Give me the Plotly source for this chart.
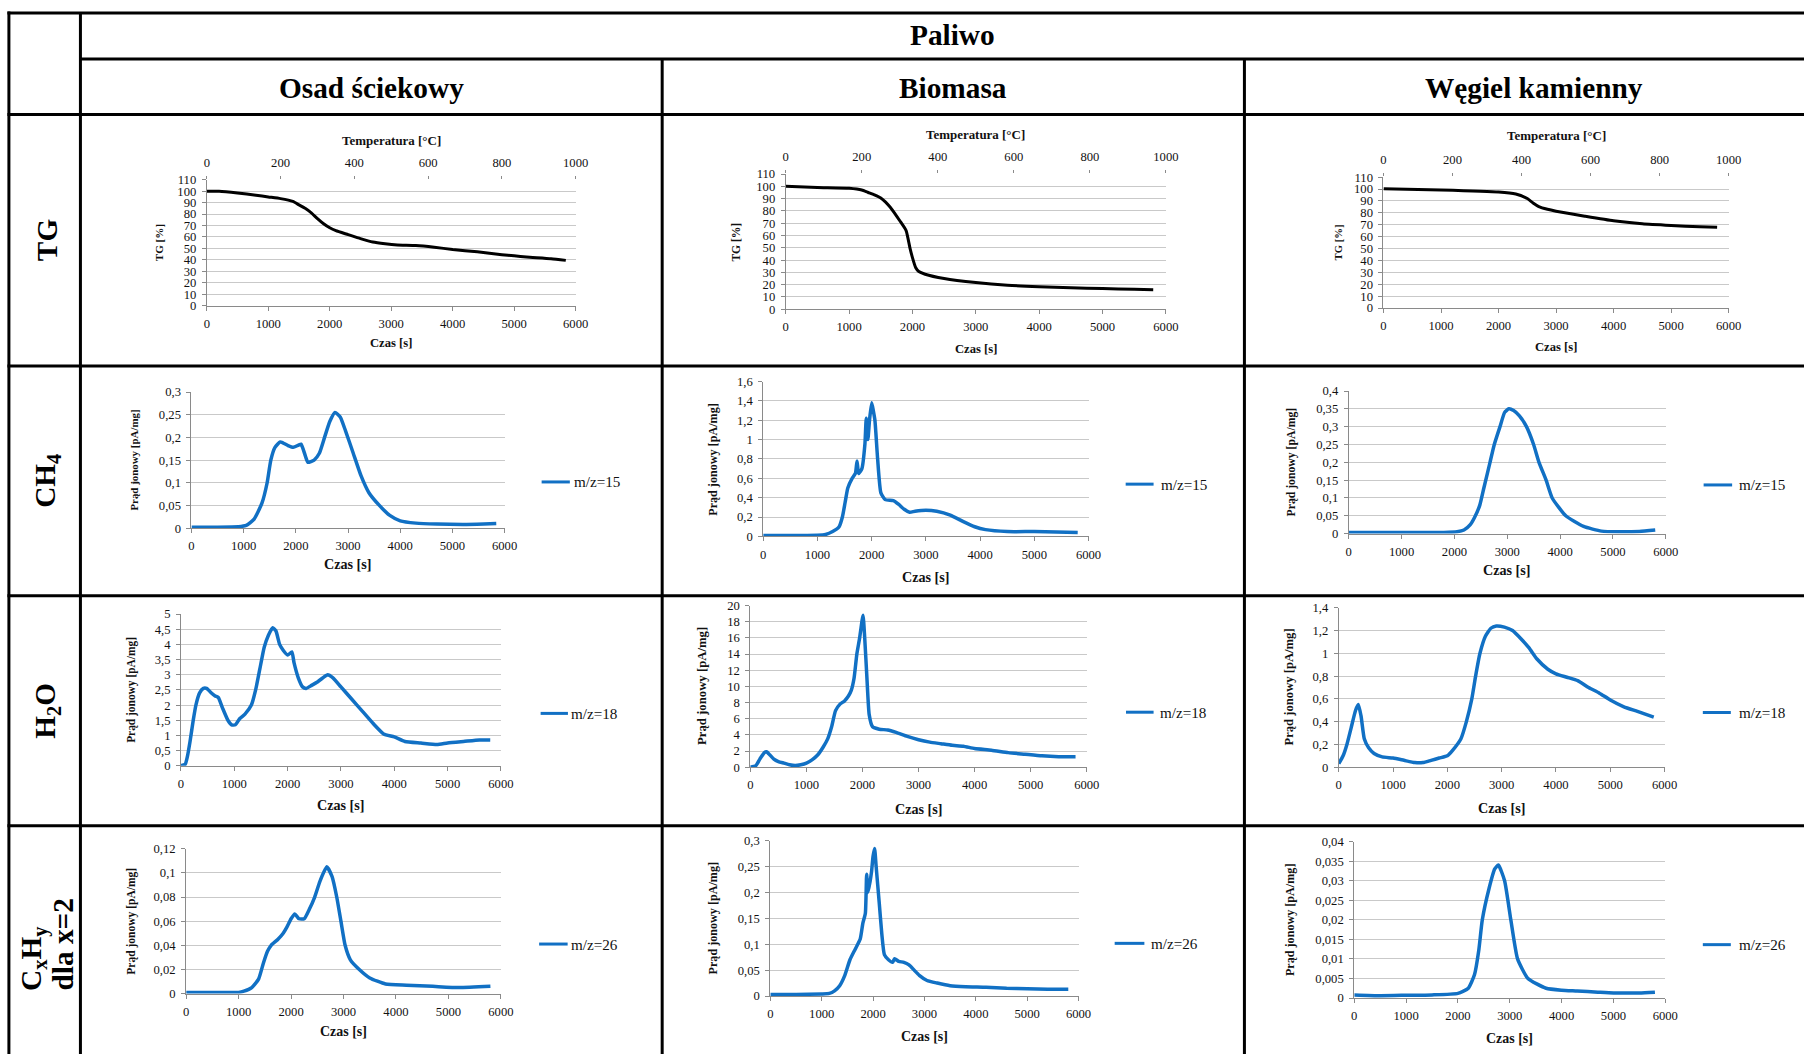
import plotly.graph_objects as go

# ---------------- DATA ----------------
TG_OSAD_T = [0, 200, 500, 800, 1000, 1200, 1400, 1500, 1600, 1700, 1800, 1900, 2000, 2100, 2300, 2500, 2700, 2900, 3100, 3400, 3700, 4000, 4400, 4800, 5000, 5200, 5600, 5840]
TG_OSAD_V = [100, 100, 98.5, 96.5, 95, 93.5, 91, 88, 85, 81, 76, 71.5, 68, 65.5, 62, 58.5, 55.5, 54, 53, 52.5, 51, 49, 47, 44.5, 43.5, 42.5, 41, 39.5]

TG_BIO_T = [0, 500, 1000, 1200, 1300, 1400, 1500, 1650, 1800, 1900, 1960, 2000, 2050, 2100, 2200, 2500, 3000, 3500, 4000, 4500, 5000, 5500, 5800]
TG_BIO_V = [100, 99, 98.4, 97, 95, 93, 90.5, 83, 72, 64, 50, 42, 34, 30.7, 28.5, 25, 21.7, 19.5, 18.3, 17.5, 16.8, 16.2, 15.8]

TG_WEG_T = [0, 1000, 2000, 2300, 2500, 2600, 2700, 2850, 3000, 3500, 4000, 4500, 5000, 5500, 5800]
TG_WEG_V = [100.3, 99.2, 97.5, 95.8, 92, 88.3, 85.3, 83, 81.4, 77.2, 73.3, 70.8, 69.4, 68.3, 67.8]

CH4_OSAD_T = [0, 500, 900, 1050, 1200, 1350, 1450, 1520, 1600, 1700, 1750, 1850, 1950, 2050, 2100, 2180, 2230, 2350, 2450, 2550, 2650, 2750, 2850, 2950, 3100, 3250, 3400, 3600, 3800, 4000, 4300, 4700, 5200, 5600, 5840]
CH4_OSAD_V = [0.002, 0.002, 0.003, 0.006, 0.02, 0.055, 0.1, 0.15, 0.178, 0.19, 0.188, 0.182, 0.178, 0.183, 0.185, 0.16, 0.145, 0.15, 0.165, 0.2, 0.235, 0.255, 0.245, 0.215, 0.165, 0.115, 0.078, 0.05, 0.028, 0.016, 0.011, 0.009, 0.008, 0.009, 0.01]

CH4_BIO_T = [0, 500, 1000, 1150, 1280, 1400, 1460, 1510, 1560, 1640, 1700, 1730, 1760, 1820, 1875, 1900, 1930, 1960, 2000, 2030, 2060, 2110, 2170, 2250, 2400, 2500, 2600, 2700, 2800, 3000, 3200, 3450, 3700, 3900, 4100, 4500, 5000, 5400, 5800]
CH4_BIO_V = [0.01, 0.01, 0.012, 0.02, 0.05, 0.1, 0.2, 0.35, 0.5, 0.6, 0.65, 0.78, 0.65, 0.7, 0.95, 1.22, 1.0, 1.2, 1.38, 1.3, 1.2, 0.8, 0.45, 0.38, 0.37, 0.33, 0.28, 0.25, 0.26, 0.27, 0.26, 0.22, 0.15, 0.1, 0.07, 0.05, 0.05, 0.045, 0.04]

CH4_WEG_T = [0, 1000, 1800, 2050, 2180, 2300, 2380, 2480, 2560, 2673, 2754, 2862, 2950, 3030, 3120, 3230, 3363, 3498, 3600, 3735, 3850, 4107, 4445, 4783, 5100, 5500, 5800]
CH4_WEG_V = [0.003, 0.003, 0.003, 0.005, 0.01, 0.025, 0.045, 0.08, 0.13, 0.2, 0.25, 0.3, 0.34, 0.35, 0.345, 0.33, 0.3, 0.25, 0.2, 0.15, 0.1, 0.05, 0.02, 0.007, 0.005, 0.006, 0.01]

H2O_OSAD_T = [0, 80, 120, 170, 230, 280, 350, 420, 480, 570, 640, 700, 780, 880, 950, 1020, 1100, 1200, 1320, 1400, 1480, 1560, 1640, 1720, 1780, 1850, 1920, 2000, 2080, 2120, 2200, 2280, 2350, 2450, 2550, 2700, 2750, 2850, 3000, 3200, 3400, 3600, 3800, 4000, 4200, 4500, 4800, 5000, 5300, 5600, 5800]
H2O_OSAD_V = [0, 0.05, 0.3, 0.8, 1.5, 2.0, 2.4, 2.55, 2.55, 2.4, 2.3, 2.25, 1.9, 1.5, 1.35, 1.35, 1.55, 1.7, 2.0, 2.5, 3.2, 3.9, 4.3, 4.55, 4.45, 4.0, 3.8, 3.65, 3.75, 3.4, 2.9, 2.6, 2.55, 2.65, 2.75, 2.95, 3.0, 2.9, 2.6, 2.2, 1.8, 1.4, 1.05, 0.95, 0.8, 0.75, 0.7, 0.75, 0.8, 0.85, 0.85]

H2O_BIO_T = [0, 100, 170, 250, 290, 350, 420, 500, 600, 700, 800, 900, 1000, 1100, 1200, 1300, 1380, 1450, 1520, 1600, 1680, 1750, 1800, 1850, 1900, 1950, 2010, 2040, 2080, 2120, 2180, 2300, 2450, 2600, 2800, 3000, 3200, 3400, 3600, 3800, 4000, 4300, 4600, 4900, 5200, 5500, 5800]
H2O_BIO_V = [0, 0.2, 1.0, 1.8, 1.9, 1.5, 1.0, 0.7, 0.5, 0.3, 0.2, 0.3, 0.5, 0.9, 1.5, 2.5, 3.5, 5.0, 7.0, 7.8, 8.2, 8.8, 9.5, 11, 14, 16, 18.8, 16, 11, 6.5, 5.0, 4.7, 4.6, 4.3, 3.8, 3.4, 3.1, 2.9, 2.7, 2.6, 2.3, 2.1, 1.8, 1.6, 1.4, 1.3, 1.3]

H2O_WEG_T = [0, 80, 150, 230, 310, 360, 410, 470, 550, 650, 800, 1000, 1200, 1400, 1550, 1700, 1850, 2000, 2100, 2250, 2350, 2450, 2520, 2600, 2700, 2800, 2900, 3050, 3200, 3350, 3500, 3650, 3850, 4000, 4200, 4400, 4600, 4800, 5000, 5250, 5500, 5800]
H2O_WEG_V = [0.03, 0.1, 0.2, 0.35, 0.5, 0.55, 0.45, 0.25, 0.17, 0.12, 0.09, 0.08, 0.06, 0.04, 0.04, 0.06, 0.08, 0.1, 0.15, 0.25, 0.4, 0.6, 0.8, 1.0, 1.15, 1.22, 1.24, 1.23, 1.2, 1.13, 1.05, 0.95, 0.86, 0.82, 0.79, 0.76, 0.7, 0.65, 0.59, 0.53, 0.49, 0.44]

CXHY_OSAD_T = [0, 500, 1000, 1100, 1250, 1380, 1470, 1550, 1620, 1750, 1850, 1920, 2000, 2070, 2150, 2250, 2350, 2450, 2550, 2680, 2780, 2870, 2950, 3030, 3130, 3300, 3500, 3800, 4200, 4700, 5200, 5800]
CXHY_OSAD_V = [0.001, 0.001, 0.001, 0.002, 0.005, 0.012, 0.025, 0.035, 0.04, 0.045, 0.05, 0.055, 0.062, 0.066, 0.062, 0.062, 0.07, 0.08, 0.093, 0.105, 0.097, 0.08, 0.06, 0.04, 0.028, 0.02, 0.013, 0.008, 0.007, 0.006, 0.005, 0.006]

CXHY_BIO_T = [0, 500, 1000, 1150, 1250, 1350, 1450, 1550, 1650, 1750, 1800, 1850, 1875, 1900, 1940, 1970, 2000, 2030, 2060, 2120, 2170, 2220, 2300, 2380, 2420, 2500, 2600, 2700, 2800, 2900, 3050, 3250, 3500, 3800, 4200, 4600, 5000, 5400, 5800]
CXHY_BIO_V = [0.003, 0.003, 0.004, 0.005, 0.01, 0.02, 0.04, 0.07, 0.09, 0.11, 0.14, 0.16, 0.235, 0.2, 0.22, 0.24, 0.27, 0.285, 0.25, 0.18, 0.12, 0.08, 0.07, 0.065, 0.072, 0.067, 0.065, 0.06, 0.05, 0.04, 0.03, 0.025, 0.02, 0.018, 0.017, 0.015, 0.014, 0.013, 0.013]

CXHY_WEG_T = [0, 500, 1000, 1500, 2000, 2200, 2320, 2400, 2470, 2600, 2710, 2780, 2900, 3020, 3150, 3350, 3700, 4000, 4300, 4700, 5000, 5500, 5800]
CXHY_WEG_V = [0.0008, 0.0006, 0.0007, 0.0008, 0.0012, 0.0025, 0.006, 0.012, 0.02, 0.028, 0.033, 0.034, 0.03, 0.02, 0.01, 0.005, 0.0025, 0.002, 0.0018, 0.0015, 0.0013, 0.0013, 0.0015]

Y_MAX = [[110, 110, 110], [0.3, 1.6, 0.4], [5, 20, 1.4], [0.12, 0.3, 0.04]]
Y_DTICK = [[10, 10, 10], [0.05, 0.2, 0.05], [0.5, 2, 0.2], [0.02, 0.05, 0.005]]
TIME_RANGE = [0, 6000]
TEMP_RANGE = [0, 1000]

HEAD_TOP = "Paliwo"
COL_HEADERS = ["Osad ściekowy", "Biomasa", "Węgiel kamienny"]
ROW_LABELS = ["TG", "CH<sub>4</sub>", "H<sub>2</sub>O"]
ROW4_LABEL = ["C<sub>x</sub>H<sub>y</sub>", "dla x=2"]
LEGEND_TEXT = [None, "m/z=15", "m/z=18", "m/z=26"]
X_TITLE = "Czas [s]"
TEMP_TITLE = "Temperatura [°C]"
Y_TITLES = ["TG [%]", "Prąd jonowy [pA/mg]", "Prąd jonowy [pA/mg]", "Prąd jonowy [pA/mg]"]

SERIES = [
    [(TG_OSAD_T, TG_OSAD_V), (TG_BIO_T, TG_BIO_V), (TG_WEG_T, TG_WEG_V)],
    [(CH4_OSAD_T, CH4_OSAD_V), (CH4_BIO_T, CH4_BIO_V), (CH4_WEG_T, CH4_WEG_V)],
    [(H2O_OSAD_T, H2O_OSAD_V), (H2O_BIO_T, H2O_BIO_V), (H2O_WEG_T, H2O_WEG_V)],
    [(CXHY_OSAD_T, CXHY_OSAD_V), (CXHY_BIO_T, CXHY_BIO_V), (CXHY_WEG_T, CXHY_WEG_V)],
]

# ---------------- LAYOUT GEOMETRY (target pixels in the 1804x1054 picture) ----------------
BOX = [
    [(206.8, 575.5, 178.6, 304.5), (785.5, 1165.5, 172.9, 308.2), (1383, 1728, 176, 307)],
    [(191.5, 504.5, 391, 527.2), (763, 1088.2, 380.5, 535.5), (1348.3, 1665.2, 390, 532.7)],
    [(181, 500.8, 613.2, 765), (750.1, 1086.4, 604.7, 766.4), (1338.3, 1664, 606.9, 766.4)],
    [(186.2, 500.8, 848, 993), (770.1, 1078.2, 840, 995.4), (1353.8, 1664.7, 840.9, 997.4)],
]
YLAB_X = [[158.6, 735.7, 1337.4], [134.6, 712.6, 1290.7], [132, 702.4, 1288.6], [131.6, 712.9, 1289.8]]
YLAB_SIZE = [[11, 11.4, 10.6], [10.8, 12, 11.6], [11.3, 12.6, 12.5], [11.4, 12, 12]]
CZAS_Y = [[342.4, 348.4, 346.2], [563, 576, 569.5], [804, 808, 807.4], [1031, 1036.4, 1037.8]]
CZAS_SIZE = [12.5, 14, 14, 13.8]
TEMP_Y = [139.6, 133.4, 134.8]
LEG = [
    None,
    [(541.5, 569.7, 571.5, 481), (1125.3, 1153.2, 1159, 483.2), (1703, 1731.5, 1736.5, 484)],
    [(540.5, 567.8, 569, 712.6), (1125.6, 1153.2, 1158, 711.4), (1702.2, 1730.2, 1736, 711.7)],
    [(539, 567.5, 569, 943.4), (1114.3, 1144, 1148.3, 942.7), (1702.2, 1730.2, 1736, 944)],
]
COL_X = [9, 80.5, 662, 1244, 1823]
ROW_Y = [11.7, 57.7, 113.3, 365, 595, 825, 1062]

# the photographed page comes out slightly reduced; this maps target pixels to figure pixels
SX, SY, OX, OY = 0.9908, 0.9875, 3.1, 5.75
W_FIG, H_FIG = 1822, 1066
FS = 1 / 0.989   # font compensation

FONT = "Liberation Serif, Times New Roman, serif"
BLUE = "#1170C4"
GRID = "#C9C9C9"
AXIS = "#8A8A8A"
TICKFONT = dict(family=FONT, size=12.5 * FS, color="#111111")


def px(x):
    return ((x - OX) / SX) / W_FIG


def py(y):
    return 1 - ((y - OY) / SY) / H_FIG


fig = go.Figure()
layout = dict(
    width=W_FIG, height=H_FIG, margin=dict(l=0, r=0, t=0, b=0, pad=0),
    paper_bgcolor="white", plot_bgcolor="white", showlegend=False,
    separators=", ", font=dict(family=FONT, color="black"),
)
shapes, annotations = [], []

idx = 0
for r in range(4):
    for c in range(3):
        idx += 1
        xl, xr, yt, yb = BOX[r][c]
        t, v = SERIES[r][c]
        xa, ya = f"x{idx}", f"y{idx}"
        fig.add_trace(go.Scatter(
            x=t, y=v, xaxis=xa, yaxis=ya, mode="lines",
            line=dict(color="black" if r == 0 else BLUE, width=3 if r == 0 else 3.5,
                      shape="spline", smoothing=0.5),
            hoverinfo="skip"))
        layout[f"xaxis{idx}"] = dict(
            domain=[px(xl), px(xr)], anchor=ya, range=TIME_RANGE, dtick=1000, tick0=0,
            showgrid=False, zeroline=False, showline=True, linecolor=AXIS, linewidth=1,
            ticks="outside", ticklen=4, tickcolor=AXIS, tickfont=TICKFONT,
            ticklabelstandoff=2, fixedrange=True)
        layout[f"yaxis{idx}"] = dict(
            domain=[py(yb), py(yt)], anchor=xa, range=[0, Y_MAX[r][c]], dtick=Y_DTICK[r][c], tick0=0,
            showgrid=True, gridcolor=GRID, gridwidth=1, zeroline=False,
            showline=True, linecolor=AXIS, linewidth=1,
            ticks="outside", ticklen=4, tickcolor=AXIS, tickfont=TICKFONT,
            ticklabelstandoff=3, fixedrange=True)
        annotations.append(dict(
            x=px((xl + xr) / 2), y=py(CZAS_Y[r][c]), xref="paper", yref="paper",
            text=f"<b>{X_TITLE}</b>", showarrow=False, xanchor="center", yanchor="middle",
            font=dict(family=FONT, size=CZAS_SIZE[r] * FS, color="#111111")))
        annotations.append(dict(
            x=px(YLAB_X[r][c]), y=py((yt + yb) / 2), xref="paper", yref="paper",
            text=f"<b>{Y_TITLES[r]}</b>", showarrow=False, textangle=-90,
            xanchor="center", yanchor="middle",
            font=dict(family=FONT, size=YLAB_SIZE[r][c] * FS, color="#111111")))
        if r == 0:
            tidx = 12 + c + 1
            fig.add_trace(go.Scatter(
                x=TEMP_RANGE, y=[None, None], xaxis=f"x{tidx}", yaxis=ya,
                mode="lines", hoverinfo="skip", showlegend=False))
            layout[f"xaxis{tidx}"] = dict(
                overlaying=xa, anchor=ya, side="top", range=TEMP_RANGE, dtick=200, tick0=0,
                showgrid=False, zeroline=False, showline=False,
                ticks="outside", ticklen=3, tickcolor=AXIS, tickfont=TICKFONT,
                ticklabelstandoff=4, fixedrange=True)
            annotations.append(dict(
                x=px((xl + xr) / 2), y=py(TEMP_Y[c]), xref="paper", yref="paper",
                text=f"<b>{TEMP_TITLE}</b>", showarrow=False, xanchor="center", yanchor="middle",
                font=dict(family=FONT, size=12.8 * FS, color="#111111")))
        else:
            lx0, lx1, ltx, ly = LEG[r][c]
            shapes.append(dict(type="line", xref="paper", yref="paper",
                               x0=px(lx0), x1=px(lx1), y0=py(ly), y1=py(ly),
                               line=dict(color=BLUE, width=3)))
            annotations.append(dict(
                x=px(ltx), y=py(ly), xref="paper", yref="paper", text=LEGEND_TEXT[r],
                showarrow=False, xanchor="left", yanchor="middle",
                font=dict(family=FONT, size=15 * FS, color="#111111")))


def hline(y, x0, x1):
    shapes.append(dict(type="line", xref="paper", yref="paper", x0=px(x0), x1=px(x1),
                       y0=py(y), y1=py(y), line=dict(color="black", width=3)))


def vline(x, y0, y1):
    shapes.append(dict(type="line", xref="paper", yref="paper", x0=px(x), x1=px(x),
                       y0=py(y0), y1=py(y1), line=dict(color="black", width=3)))


hline(ROW_Y[0], COL_X[0] - 1.5, COL_X[4])
hline(ROW_Y[1], COL_X[1], COL_X[4])
for y in ROW_Y[2:6]:
    hline(y, COL_X[0] - 1.5, COL_X[4])
vline(COL_X[0], ROW_Y[0] - 1.5, ROW_Y[6])
vline(COL_X[1], ROW_Y[0], ROW_Y[6])
vline(COL_X[2], ROW_Y[1], ROW_Y[6])
vline(COL_X[3], ROW_Y[1], ROW_Y[6])

HEAD_FONT = dict(family=FONT, size=29 * FS, color="black")
annotations.append(dict(x=px((COL_X[1] + COL_X[4]) / 2), y=py(34), xref="paper", yref="paper",
                        text=f"<b>{HEAD_TOP}</b>", showarrow=False, font=HEAD_FONT,
                        xanchor="center", yanchor="middle"))
for c in range(3):
    annotations.append(dict(x=px((COL_X[c + 1] + COL_X[c + 2]) / 2), y=py(87), xref="paper", yref="paper",
                            text=f"<b>{COL_HEADERS[c]}</b>", showarrow=False, font=HEAD_FONT,
                            xanchor="center", yanchor="middle"))
for r in range(3):
    annotations.append(dict(x=px(47), y=py((ROW_Y[r + 2] + ROW_Y[r + 3]) / 2), xref="paper", yref="paper",
                            text=f"<b>{ROW_LABELS[r]}</b>", showarrow=False, font=HEAD_FONT,
                            textangle=-90, xanchor="center", yanchor="middle"))
annotations.append(dict(x=px(33), y=py(992), xref="paper", yref="paper",
                        text=f"<b>{ROW4_LABEL[0]}</b>", showarrow=False, font=HEAD_FONT,
                        textangle=-90, xanchor="center", yanchor="bottom"))
annotations.append(dict(x=px(63), y=py(992), xref="paper", yref="paper",
                        text=f"<b>{ROW4_LABEL[1]}</b>", showarrow=False, font=HEAD_FONT,
                        textangle=-90, xanchor="center", yanchor="bottom"))

layout["shapes"] = shapes
layout["annotations"] = annotations
fig.update_layout(**layout)

PIN_PAGE = (
    "document.documentElement.style.margin='0';document.documentElement.style.padding='0';"
    "document.documentElement.style.overflow='hidden';"
    "document.body.style.margin='0';document.body.style.padding='0';document.body.style.overflow='hidden';"
    "var g=document.getElementsByClassName('plotly-graph-div')[0];"
    "g.style.position='fixed';g.style.left='0px';g.style.top='0px';"
)
fig.write_html("out.html", config={"displayModeBar": False}, post_script=PIN_PAGE)
